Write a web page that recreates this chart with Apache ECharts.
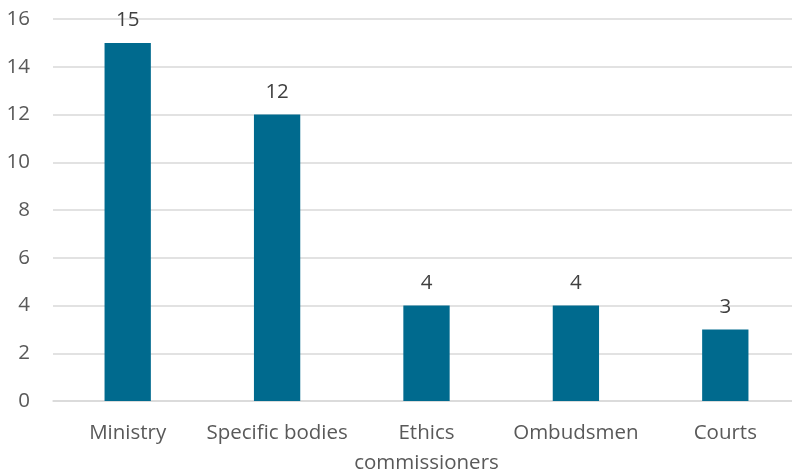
<!DOCTYPE html>
<html>
<head>
<meta charset="utf-8">
<script src="https://cdn.jsdelivr.net/npm/echarts@6/dist/echarts.min.js"></script>
<style>html,body{margin:0;padding:0;background:#fff}#c{width:792px;height:474px}</style>
</head>
<body>
<div id="c"></div>
<script>
const categories = ['Ministry', 'Specific bodies', 'Ethics\ncommissioners', 'Ombudsmen', 'Courts'];
const values = [15, 12, 4, 4, 3];
const yTicks = { min: 0, max: 16, interval: 2 };

const chart = echarts.init(document.getElementById('c'));
const font = "'Open Sans', sans-serif";
chart.setOption({
  animation: false,
  grid: { left: 53, top: 19, right: -8, bottom: 73, containLabel: false, outerBoundsMode: 'none' },
  xAxis: {
    type: 'category',
    data: categories,
    axisLine: { show: true, lineStyle: { color: '#d9d9d9', width: 1.5 } },
    axisTick: { show: false },
    axisLabel: { color: '#595959', fontSize: 20.5, fontFamily: font, margin: 17, lineHeight: 30, interval: 0 }
  },
  yAxis: {
    type: 'value',
    min: yTicks.min, max: yTicks.max, interval: yTicks.interval,
    axisLine: { show: false },
    axisTick: { show: false },
    splitLine: { lineStyle: { color: '#d9d9d9', width: 1.5 } },
    axisLabel: { color: '#595959', fontSize: 20.5, fontFamily: font, margin: 23 }
  },
  series: [{
    type: 'bar',
    data: values,
    barWidth: '31%',
    itemStyle: { color: '#006a8e' },
    label: { show: true, position: 'top', distance: 12, color: '#404040', fontSize: 20.5, fontFamily: font }
  }]
});
</script>
</body>
</html>
